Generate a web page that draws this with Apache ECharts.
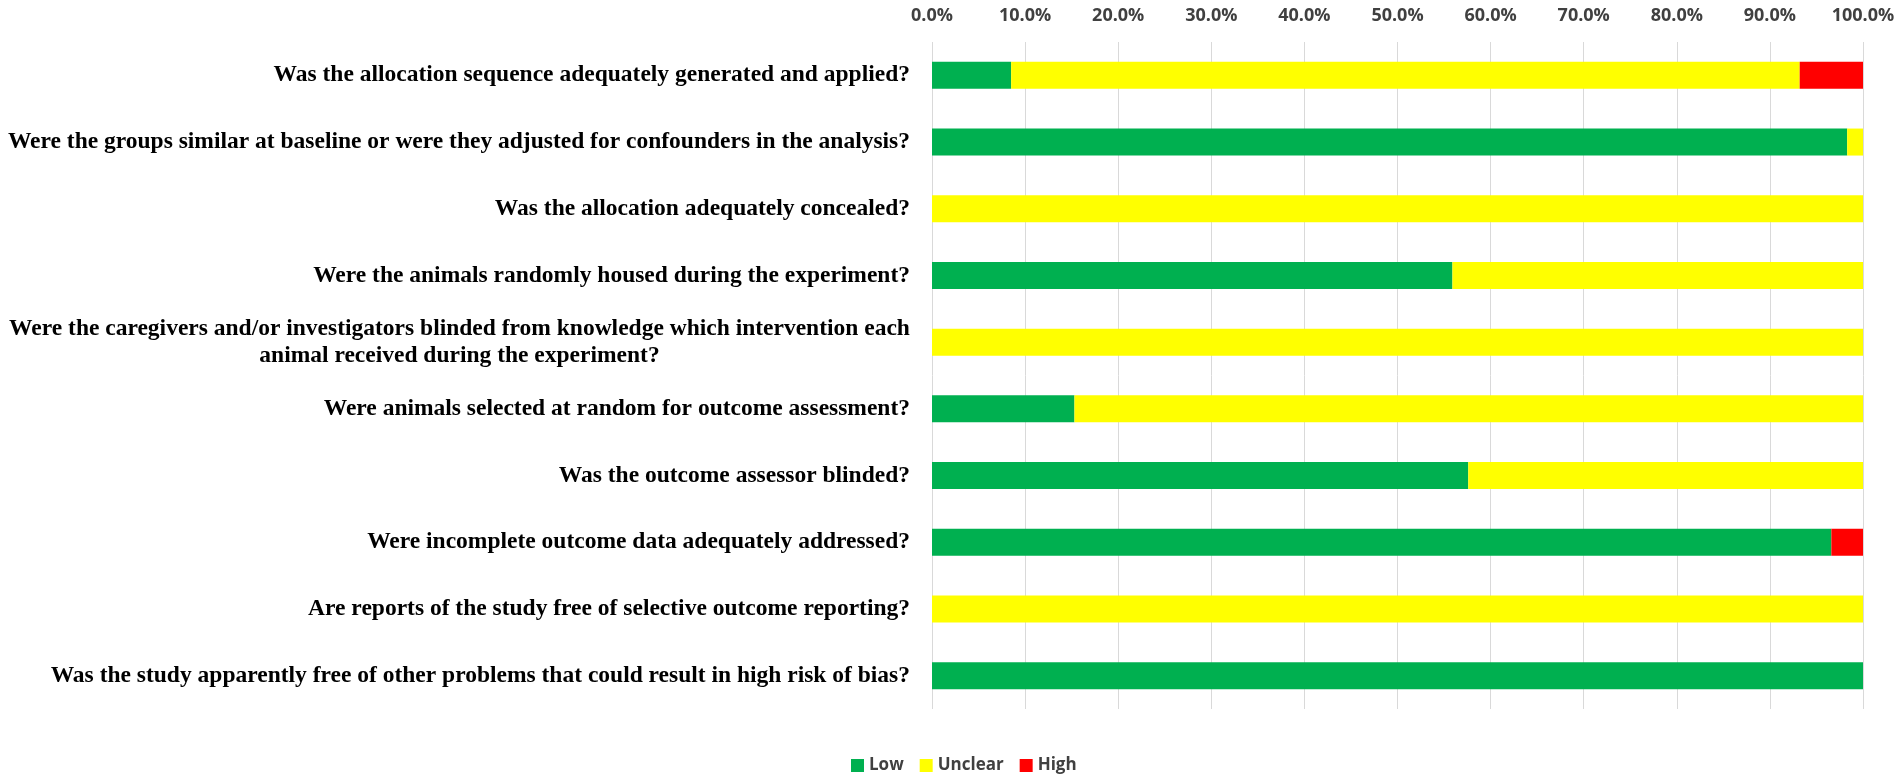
<!DOCTYPE html>
<html>
<head>
<meta charset="utf-8">
<script src="https://cdn.jsdelivr.net/npm/echarts@6/dist/echarts.min.js"></script>
<style>
  html, body { margin: 0; padding: 0; background: #fff; }
  #chart { width: 1902px; height: 781px; }
</style>
</head>
<body>
<div id="chart"></div>
<script>
// risk of bias questions, top to bottom
var questions = [
  'Was the allocation sequence adequately generated and applied?',
  'Were the groups similar at baseline or were they adjusted for confounders in the analysis?',
  'Was the allocation adequately concealed?',
  'Were the animals randomly housed during the experiment?',
  'Were the caregivers and/or investigators blinded from knowledge which intervention each\nanimal received during the experiment?',
  'Were animals selected at random for outcome assessment?',
  'Was the outcome assessor blinded?',
  'Were incomplete outcome data adequately addressed?',
  'Are reports of the study free of selective outcome reporting?',
  'Was the study apparently free of other problems that could result in high risk of bias?'
];
var lowPct     = [8.5, 98.3, 0, 55.9, 0, 15.3, 57.6, 96.6, 0, 100];
var unclearPct = [84.7, 1.7, 100, 44.1, 100, 84.7, 42.4, 0, 100, 0];
var highPct    = [6.8, 0, 0, 0, 0, 0, 0, 3.4, 0, 0];

var seriesNames = ['Low', 'Unclear', 'High'];
var colors = ['#00B050', '#FFFF00', '#FF0000'];

var labelFont = 'Liberation Serif';
var labelSize = 23.5;

// width of the longest line of the wrapped question, so both lines centre on it
function wrappedWidth(text) {
  var ctx = document.createElement('canvas').getContext('2d');
  ctx.font = 'bold ' + labelSize + 'px "' + labelFont + '"';
  var w = 0;
  text.split('\n').forEach(function (l) { w = Math.max(w, ctx.measureText(l).width); });
  return Math.ceil(w);
}
var wrapW = 0;
questions.forEach(function (q) { if (q.indexOf('\n') >= 0) wrapW = wrappedWidth(q); });

var chart = echarts.init(document.getElementById('chart'));

function barSeries(name, data) {
  return {
    name: name,
    type: 'bar',
    stack: 'rob',
    barWidth: 27,
    data: data
  };
}

chart.setOption({
  color: colors,
  animation: false,
  grid: { left: 932, right: 39, top: 42, bottom: 72 },
  legend: {
    bottom: 2,
    left: 846,
    itemWidth: 13,
    itemHeight: 13,
    itemGap: 16,
    icon: 'rect',
    textStyle: { fontFamily: 'Open Sans', fontWeight: 'bold', fontSize: 17, color: '#404040' },
    data: seriesNames
  },
  xAxis: {
    type: 'value',
    position: 'top',
    min: 0,
    max: 100,
    interval: 10,
    axisLine: { show: false },
    axisTick: { show: false },
    splitLine: { lineStyle: { color: '#d9d9d9', width: 1 } },
    axisLabel: {
      margin: 17,
      fontFamily: 'Open Sans',
      fontWeight: 'bold',
      fontSize: 18,
      color: '#404040',
      formatter: function (v) { return v.toFixed(1) + '%'; }
    }
  },
  yAxis: {
    type: 'category',
    inverse: true,
    data: questions,
    axisLine: { show: false },
    axisTick: { show: false },
    axisLabel: {
      margin: 22,
      fontFamily: labelFont,
      fontWeight: 'bold',
      fontSize: labelSize,
      color: '#000',
      lineHeight: 27,
      formatter: function (v) {
        // the wrapped question is centred on its own lines
        if (v.indexOf('\n') >= 0) return '{c|' + v + '}';
        return v;
      },
      rich: {
        c: {
          width: wrapW,
          align: 'center',
          fontFamily: labelFont,
          fontWeight: 'bold',
          fontSize: labelSize,
          lineHeight: 27,
          color: '#000'
        }
      }
    }
  },
  series: [
    barSeries('Low', lowPct),
    barSeries('Unclear', unclearPct),
    barSeries('High', highPct)
  ]
});

window.addEventListener('resize', function () {
  setTimeout(function () { chart.resize(); }, 200);
});
</script>
</body>
</html>
